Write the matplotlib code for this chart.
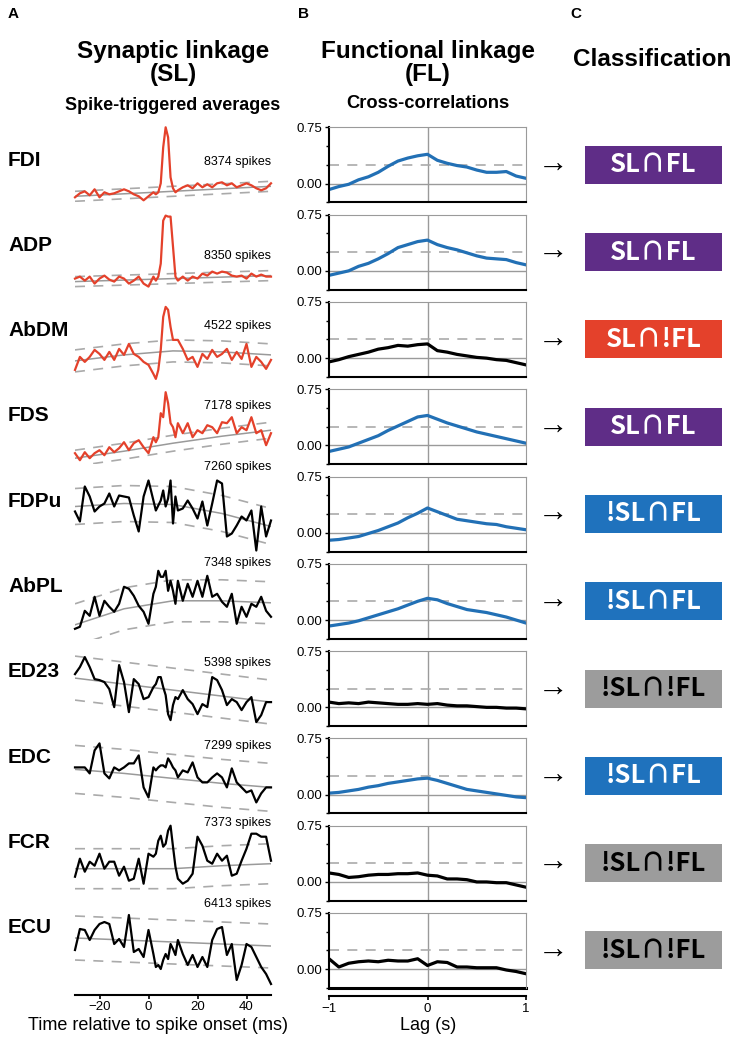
import numpy as np
import matplotlib.pyplot as plt

plt.rcParams['font.family'] = ['Liberation Sans', 'DejaVu Sans']
plt.rcParams['axes.unicode_minus'] = True

# --- data ---
muscles = ['FDI', 'ADP', 'AbDM', 'FDS', 'FDPu', 'AbPL', 'ED23', 'EDC', 'FCR', 'ECU']
spikes = [8374, 8350, 4522, 7178, 7260, 7348, 5398, 7299, 7373, 6413]
classes = ['SL∩FL', 'SL∩FL', 'SL∩!FL', 'SL∩FL', '!SL∩FL',
           '!SL∩FL', '!SL∩!FL', '!SL∩FL', '!SL∩!FL', '!SL∩!FL']

# spike-triggered averages (a.u.), time in ms
sta_t = [-30, -28, -26, -24, -22, -20, -18, -16, -14, -12, -10, -8, -6, -4, -2, 0, 2,
         3, 4, 5, 6, 7, 8, 9, 10, 11,
         12, 14, 16, 18, 20, 22, 24, 26, 28, 30, 32, 34, 36, 38, 40, 42, 44, 46, 48, 50]
sta_fdi = [5, 9, 11, 7, 13, 5, 10, 8, 9, 11, 13, 11, 8, 6, 2, 6, 10,
           8, 10, 19, 55, 75, 65, 25, 14, 10,
           12, 15, 17, 14, 19, 15, 18, 15, 19, 20, 17, 19, 15, 17, 19, 17, 14, 12, 14, 19]
sta_adp = [11, 13, 9, 13, 6, 11, 14, 10, 8, 13, 11, 6, 9, 13, 6, 3, 13,
           9, 13, 26, 69, 74, 73, 73, 43, 13,
           9, 13, 9, 13, 11, 16, 14, 18, 16, 18, 17, 14, 13, 14, 11, 16, 13, 15, 13, 13]
sta_abdm = [7, 20, 15, 20, 27, 23, 17, 25, 17, 28, 22, 33, 23, 20, 15, 12, 3,
            -2, 7, 27, 60, 70, 67, 50, 37, 37,
            37, 28, 17, 20, 10, 23, 18, 27, 20, 23, 28, 17, 25, 18, 33, 10, 20, 15, 8, 17]
sta_fds = [11, 4, 12, 6, 11, 14, 9, 17, 12, 16, 22, 14, 21, 24, 17, 11, 27,
           22, 27, 51, 47, 72, 61, 41, 37, 27,
           41, 31, 41, 27, 34, 31, 39, 37, 31, 42, 41, 47, 31, 37, 34, 47, 31, 34, 19, 31]
sta_fdpu = [40, 30, 65, 55, 40, 45, 48, 58, 45, 56, 55, 54, 36, 20, 55, 71, 51,
            41, 46, 51, 61, 45, 53, 71, 28, 55,
            41, 43, 51, 43, 33, 50, 26, 48, 71, 68, 15, 18, 26, 35, 31, 41, 1, 45, 15, 31]
sta_abpl = [10, 12, 28, 23, 42, 23, 38, 32, 27, 35, 52, 50, 43, 33, 27, 15, 45,
            52, 68, 62, 62, 68, 48, 58, 48, 35,
            58, 38, 55, 42, 58, 42, 63, 42, 45, 37, 32, 45, 15, 32, 22, 35, 32, 42, 28, 22]
sta_ed23 = [52, 59, 69, 59, 47, 46, 44, 37, 19, 61, 44, 14, 47, 42, 27, 29, 39,
            42, 49, 49, 39, 31, 12, 6, 21, 29,
            27, 36, 27, 22, 12, 22, 19, 49, 46, 36, 21, 27, 24, 16, 24, 29, 4, 11, 24, 24]
sta_edc = [46, 46, 46, 40, 63, 70, 40, 35, 46, 43, 46, 50, 50, 58, 26, 16, 46,
           43, 46, 48, 48, 46, 55, 51, 46, 43,
           36, 43, 41, 51, 36, 31, 31, 36, 40, 36, 26, 45, 31, 26, 21, 23, 11, 20, 26, 26]
sta_fcr = [24, 42, 29, 39, 35, 47, 32, 39, 39, 25, 34, 20, 22, 42, 17, 47, 44,
           47, 60, 65, 54, 57, 70, 75, 54, 34,
           22, 17, 20, 27, 64, 55, 40, 37, 47, 40, 45, 25, 27, 40, 52, 67, 67, 64, 64, 40]
sta_ecu = [38, 59, 58, 48, 58, 64, 66, 64, 44, 49, 41, 73, 36, 39, 31, 58, 34,
           21, 23, 19, 28, 34, 29, 44, 39, 33,
           48, 34, 23, 33, 21, 31, 21, 48, 59, 61, 33, 44, 8, 23, 44, 41, 31, 21, 14, 4]
sta_all = [sta_fdi, sta_adp, sta_abdm, sta_fds, sta_fdpu,
           sta_abpl, sta_ed23, sta_edc, sta_fcr, sta_ecu]

# baseline trend and its +-2SD band
mean_t = [-30, -10, 10, 30, 50]
sta_mean = [[6, 8.5, 11, 13.5, 16],
            [8, 9.5, 11, 12.5, 14],
            [16, 22, 26, 25, 22],
            [6, 13, 21, 28, 34],
            [45, 48, 47, 38, 25],
            [14, 30, 38, 38, 36],
            [48, 42, 36, 30, 24],
            [44, 40, 35, 30, 26],
            [32, 32, 32, 35, 37],
            [50, 48, 46, 44, 42]]
sta_band = [5, 5, 11, 8, 18, 21, 22, 24, 20, 22]

# cross-correlations, lag in s
cc_lag = [-1.0, -0.9, -0.8, -0.7, -0.6, -0.5, -0.4, -0.3, -0.2, -0.1, 0.0,
          0.1, 0.2, 0.3, 0.4, 0.5, 0.6, 0.7, 0.8, 0.9, 1.0]
cc_fdi = [-0.08, -0.04, -0.01, 0.05, 0.09, 0.15, 0.23, 0.30, 0.34, 0.37, 0.39,
          0.31, 0.27, 0.24, 0.22, 0.18, 0.15, 0.15, 0.16, 0.10, 0.07]
cc_adp = [-0.06, -0.03, 0.00, 0.06, 0.10, 0.16, 0.23, 0.31, 0.35, 0.39, 0.41,
          0.35, 0.31, 0.28, 0.24, 0.20, 0.17, 0.16, 0.15, 0.11, 0.08]
cc_abdm = [-0.05, -0.02, 0.02, 0.05, 0.08, 0.12, 0.14, 0.17, 0.16, 0.18, 0.19,
           0.10, 0.08, 0.05, 0.03, 0.01, 0.00, -0.02, -0.03, -0.06, -0.09]
cc_fds = [-0.08, -0.05, -0.02, 0.03, 0.08, 0.13, 0.20, 0.26, 0.32, 0.38, 0.40,
          0.35, 0.30, 0.26, 0.22, 0.18, 0.15, 0.12, 0.09, 0.06, 0.03]
cc_fdpu = [-0.10, -0.09, -0.07, -0.05, -0.01, 0.03, 0.08, 0.13, 0.20, 0.26, 0.33,
           0.28, 0.23, 0.18, 0.16, 0.14, 0.12, 0.11, 0.08, 0.06, 0.04]
cc_abpl = [-0.08, -0.06, -0.04, -0.01, 0.03, 0.07, 0.11, 0.15, 0.20, 0.25, 0.29,
           0.27, 0.22, 0.18, 0.14, 0.12, 0.10, 0.07, 0.04, 0.00, -0.04]
cc_ed23 = [0.07, 0.05, 0.06, 0.05, 0.07, 0.06, 0.05, 0.04, 0.04, 0.05, 0.04,
           0.05, 0.03, 0.02, 0.02, 0.01, 0.00, 0.00, -0.01, -0.01, -0.02]
cc_edc = [0.02, 0.03, 0.05, 0.07, 0.10, 0.12, 0.15, 0.17, 0.19, 0.21, 0.22,
          0.19, 0.15, 0.11, 0.07, 0.05, 0.03, 0.01, -0.01, -0.03, -0.04]
cc_fcr = [0.12, 0.10, 0.06, 0.07, 0.09, 0.10, 0.10, 0.11, 0.11, 0.12, 0.09,
          0.08, 0.04, 0.04, 0.03, 0.00, 0.00, -0.01, -0.01, -0.04, -0.07]
cc_ecu = [0.14, 0.03, 0.08, 0.10, 0.11, 0.10, 0.12, 0.11, 0.11, 0.14, 0.05,
          0.10, 0.09, 0.03, 0.03, 0.02, 0.02, 0.02, -0.01, -0.03, -0.06]
cc_all = [cc_fdi, cc_adp, cc_abdm, cc_fds, cc_fdpu,
          cc_abpl, cc_ed23, cc_edc, cc_fcr, cc_ecu]
cc_thresh = 0.25

RED = '#e4412b'
BLUE = '#2270b5'
box_colors = {'SL∩FL': '#5f2d87', 'SL∩!FL': '#e4412b',
              '!SL∩FL': '#1f72bd', '!SL∩!FL': '#9c9c9c'}
GRAY = '#9a9a9a'

W, H = 740, 1047
fig = plt.figure(figsize=(W / 100, H / 100), dpi=100)


def rect(x0, y0, w, h):
    return [x0 / W, 1 - (y0 + h) / H, w / W, h / H]


def ftext(x, y, s, **kw):
    fig.text(x / W, 1 - y / H, s, **kw)


ROW0, PITCH, RH = 127.3, 87.3, 75
# vertical spot (px) of the spike-count note for each row
spike_y = [162, 256, 326, 406, 467, 563, 663, 746, 823, 904]

for i, name in enumerate(muscles):
    top = ROW0 + PITCH * i
    sl = not classes[i].startswith('!')
    fl = not classes[i].endswith('!FL')

    # --- STA panel ---
    ax = fig.add_axes(rect(75, top, 196, RH))
    m = np.array(sta_mean[i])
    ax.plot(mean_t, m, color=GRAY, lw=1.1)
    ax.plot(mean_t, m + sta_band[i], color='#aaaaaa', lw=1.2, dashes=(6, 5))
    ax.plot(mean_t, m - sta_band[i], color='#aaaaaa', lw=1.2, dashes=(6, 5))
    ax.plot(sta_t, sta_all[i], color=RED if sl else 'black', lw=1.6,
            clip_on=False, solid_joinstyle='round')
    ax.set_xlim(-30, 50)
    ax.set_ylim(0, 75)
    for s in ['left', 'top', 'right']:
        ax.spines[s].set_visible(False)
    ax.set_yticks([])
    ax.patch.set_alpha(0)
    if i < len(muscles) - 1:
        ax.spines['bottom'].set_visible(False)
        ax.set_xticks([])
    else:
        ax.spines['bottom'].set_position(('outward', 5))
        ax.spines['bottom'].set_linewidth(1.5)
        ax.set_xticks([-20, 0, 20, 40])
        ax.tick_params(axis='x', labelsize=9.5, length=3, width=1.2, pad=1.5)

    ftext(271, spike_y[i], f'{spikes[i]} spikes', ha='right', va='center',
          fontsize=9)
    ftext(8, 160 + 85.3 * i, name, ha='left', va='center', fontsize=15,
          fontweight='bold')

    # --- cross-correlation panel ---
    bx = fig.add_axes(rect(329, top, 197, RH))
    bx.axhline(0, color=GRAY, lw=1)
    bx.axvline(0, color=GRAY, lw=1)
    bx.axhline(cc_thresh, color='#aaaaaa', lw=1.2, dashes=(6, 5))
    bx.plot(cc_lag, cc_all[i], color=BLUE if fl else 'black', lw=2.3,
            solid_joinstyle='round')
    bx.set_xlim(-1, 1)
    bx.set_ylim(-0.25, 0.75)
    bx.set_yticks([0, 0.75])
    bx.set_yticklabels(['0.00', '0.75'])
    bx.set_yticks([-0.25, 0.25, 0.5], minor=True)
    bx.tick_params(axis='y', labelsize=9.5, length=3, width=1, pad=2)
    bx.tick_params(axis='y', which='minor', length=2, width=1)
    bx.spines['left'].set_linewidth(1.5)
    bx.spines['top'].set_color(GRAY)
    bx.spines['right'].set_color(GRAY)
    if i < len(muscles) - 1:
        bx.spines['bottom'].set_linewidth(1.5)
        bx.set_xticks([])
    else:
        bx.axhline(-0.25, color='black', lw=2.2, clip_on=False)
        bx.spines['bottom'].set_position(('outward', 6))
        bx.spines['bottom'].set_linewidth(1.5)
        bx.set_xticks([-1, 0, 1])
        bx.set_xticklabels(['\u22121', '0', '1'])
        bx.tick_params(axis='x', labelsize=9.5, length=3, width=1.2, pad=1.5)

    # --- classification ---
    yc = top + RH / 2
    ftext(553, yc, '\u2192', ha='center', va='center', fontsize=22,
          family=['Liberation Sans', 'DejaVu Sans'])
    cx = fig.add_axes(rect(585, yc - 19, 137, 38))
    cx.set_facecolor(box_colors[classes[i]])
    cx.set_xticks([])
    cx.set_yticks([])
    for s in cx.spines.values():
        s.set_visible(False)
    tcol = 'black' if classes[i] == '!SL∩!FL' else 'white'
    cx.text(0.5, 0.5, classes[i], transform=cx.transAxes, ha='center',
            va='center', color=tcol, fontsize=18.5, fontweight='bold',
            family=['Noto Sans CJK SC', 'DejaVu Sans'])

# headers
ftext(8, 14, 'A', fontsize=11, fontweight='bold', va='center')
ftext(298, 14, 'B', fontsize=11, fontweight='bold', va='center')
ftext(570, 14, 'C', fontsize=11, fontweight='bold', va='center')
ftext(173, 63, 'Synaptic linkage\n(SL)', ha='center', va='center',
      fontsize=17.5, fontweight='bold', linespacing=1.0)
ftext(428, 63, 'Functional linkage\n(FL)', ha='center', va='center',
      fontsize=17.5, fontweight='bold', linespacing=1.0)
ftext(652, 60, 'Classification', ha='center', va='center', fontsize=17.5,
      fontweight='bold')
ftext(173, 106, 'Spike-triggered averages', ha='center', va='center',
      fontsize=13, fontweight='bold')
ftext(428, 103, 'Cross-correlations', ha='center', va='center',
      fontsize=13.2, fontweight='bold')
ftext(158, 1026, 'Time relative to spike onset (ms)', ha='center',
      va='center', fontsize=13)
ftext(428, 1026, 'Lag (s)', ha='center', va='center', fontsize=13)

fig.savefig('out.png', dpi=100)
